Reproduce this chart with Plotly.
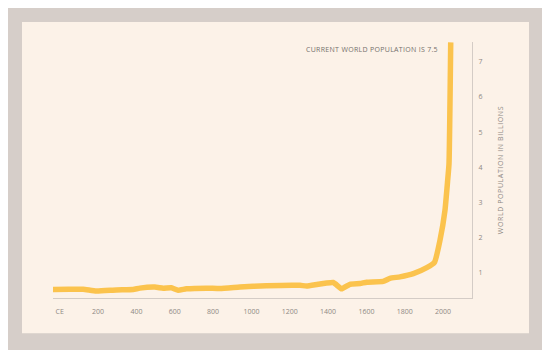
import plotly.graph_objects as go

# Data (year, world population in billions)
years = [-37, 50, 122, 191, 296, 383, 418, 496, 540, 583, 618, 661, 766, 836,
         940, 1079, 1253, 1288, 1427, 1471, 1514, 1567, 1602, 1688, 1723, 1775,
         1845, 1915, 1955, 1984, 2010, 2024, 2031, 2040]
population = [0.53, 0.54, 0.54, 0.49, 0.52, 0.53, 0.57, 0.60, 0.57, 0.58, 0.51,
              0.55, 0.57, 0.56, 0.60, 0.64, 0.65, 0.63, 0.73, 0.55, 0.68, 0.70,
              0.74, 0.76, 0.85, 0.89, 0.98, 1.15, 1.30, 1.93, 2.78, 3.63, 4.1, 7.55]

x_tickvals = [0, 200, 400, 600, 800, 1000, 1200, 1400, 1600, 1800, 2000]
x_ticktext = ["CE", "200", "400", "600", "800", "1000", "1200", "1400", "1600", "1800", "2000"]
y_tickvals = [1, 2, 3, 4, 5, 6, 7]

annotation_text = "CURRENT WORLD POPULATION IS 7.5"
y_title = "WORLD POPULATION IN BILLIONS"

# The page body adds an 8px margin; work in screen pixels and subtract it.
OFF = 8
W, H = 543 - OFF, 350 - OFF
L, R, T, B = 53 - OFF, 472 - OFF, 42 - OFF, 297.7 - OFF
pw, ph = R - L, B - T


def px_x(p):
    return (p - OFF - L) / pw


def px_y(p):
    return (B - (p - OFF)) / ph


FONT = "Open Sans"
GREY_TXT = "#8f8984"


def spaced(txt, ls):
    return f'<span style="letter-spacing:{ls}px">{txt}</span>'


fig = go.Figure()
fig.add_trace(go.Scatter(
    x=years, y=population, mode="lines",
    line=dict(color="#fbc34d", width=5.5, shape="spline", smoothing=0.4),
    hoverinfo="skip", showlegend=False,
))

fig.update_layout(
    width=W, height=H,
    margin=dict(l=L, r=W - R, t=T, b=H - B, pad=0),
    paper_bgcolor="#d6cec9",
    plot_bgcolor="rgba(0,0,0,0)",
    showlegend=False,
    xaxis=dict(
        range=[-35, 2151], tickvals=x_tickvals, ticktext=x_ticktext,
        showgrid=False, zeroline=False, showline=True, linecolor="#d4ccc6",
        linewidth=1, ticks="", tickfont=dict(family=FONT, size=7, color=GREY_TXT),
        ticklabelstandoff=7,
    ),
    yaxis=dict(
        range=[0.29, 7.56], tickvals=y_tickvals, side="right",
        showgrid=False, zeroline=False, showline=True, linecolor="#d4ccc6",
        linewidth=1, ticks="", tickfont=dict(family=FONT, size=7, color=GREY_TXT),
        ticklabelstandoff=4,
    ),
    shapes=[
        dict(type="rect", xref="paper", yref="paper", layer="below",
             x0=px_x(22), x1=px_x(529), y0=px_y(333), y1=px_y(22),
             fillcolor="#fcf2e8", line=dict(width=0)),
    ],
    annotations=[
        dict(text=spaced(annotation_text, 0.3), xref="paper", yref="paper",
             x=px_x(440), y=px_y(49), xanchor="right", yanchor="middle",
             showarrow=False, font=dict(family=FONT, size=7, color="#74706c")),
        dict(text=spaced(y_title, 0.6), xref="paper", yref="paper", textangle=-90,
             x=px_x(500), y=px_y(170), xanchor="center", yanchor="middle",
             showarrow=False, font=dict(family=FONT, size=7, color=GREY_TXT)),
    ],
)

fig.write_html("out.html")
